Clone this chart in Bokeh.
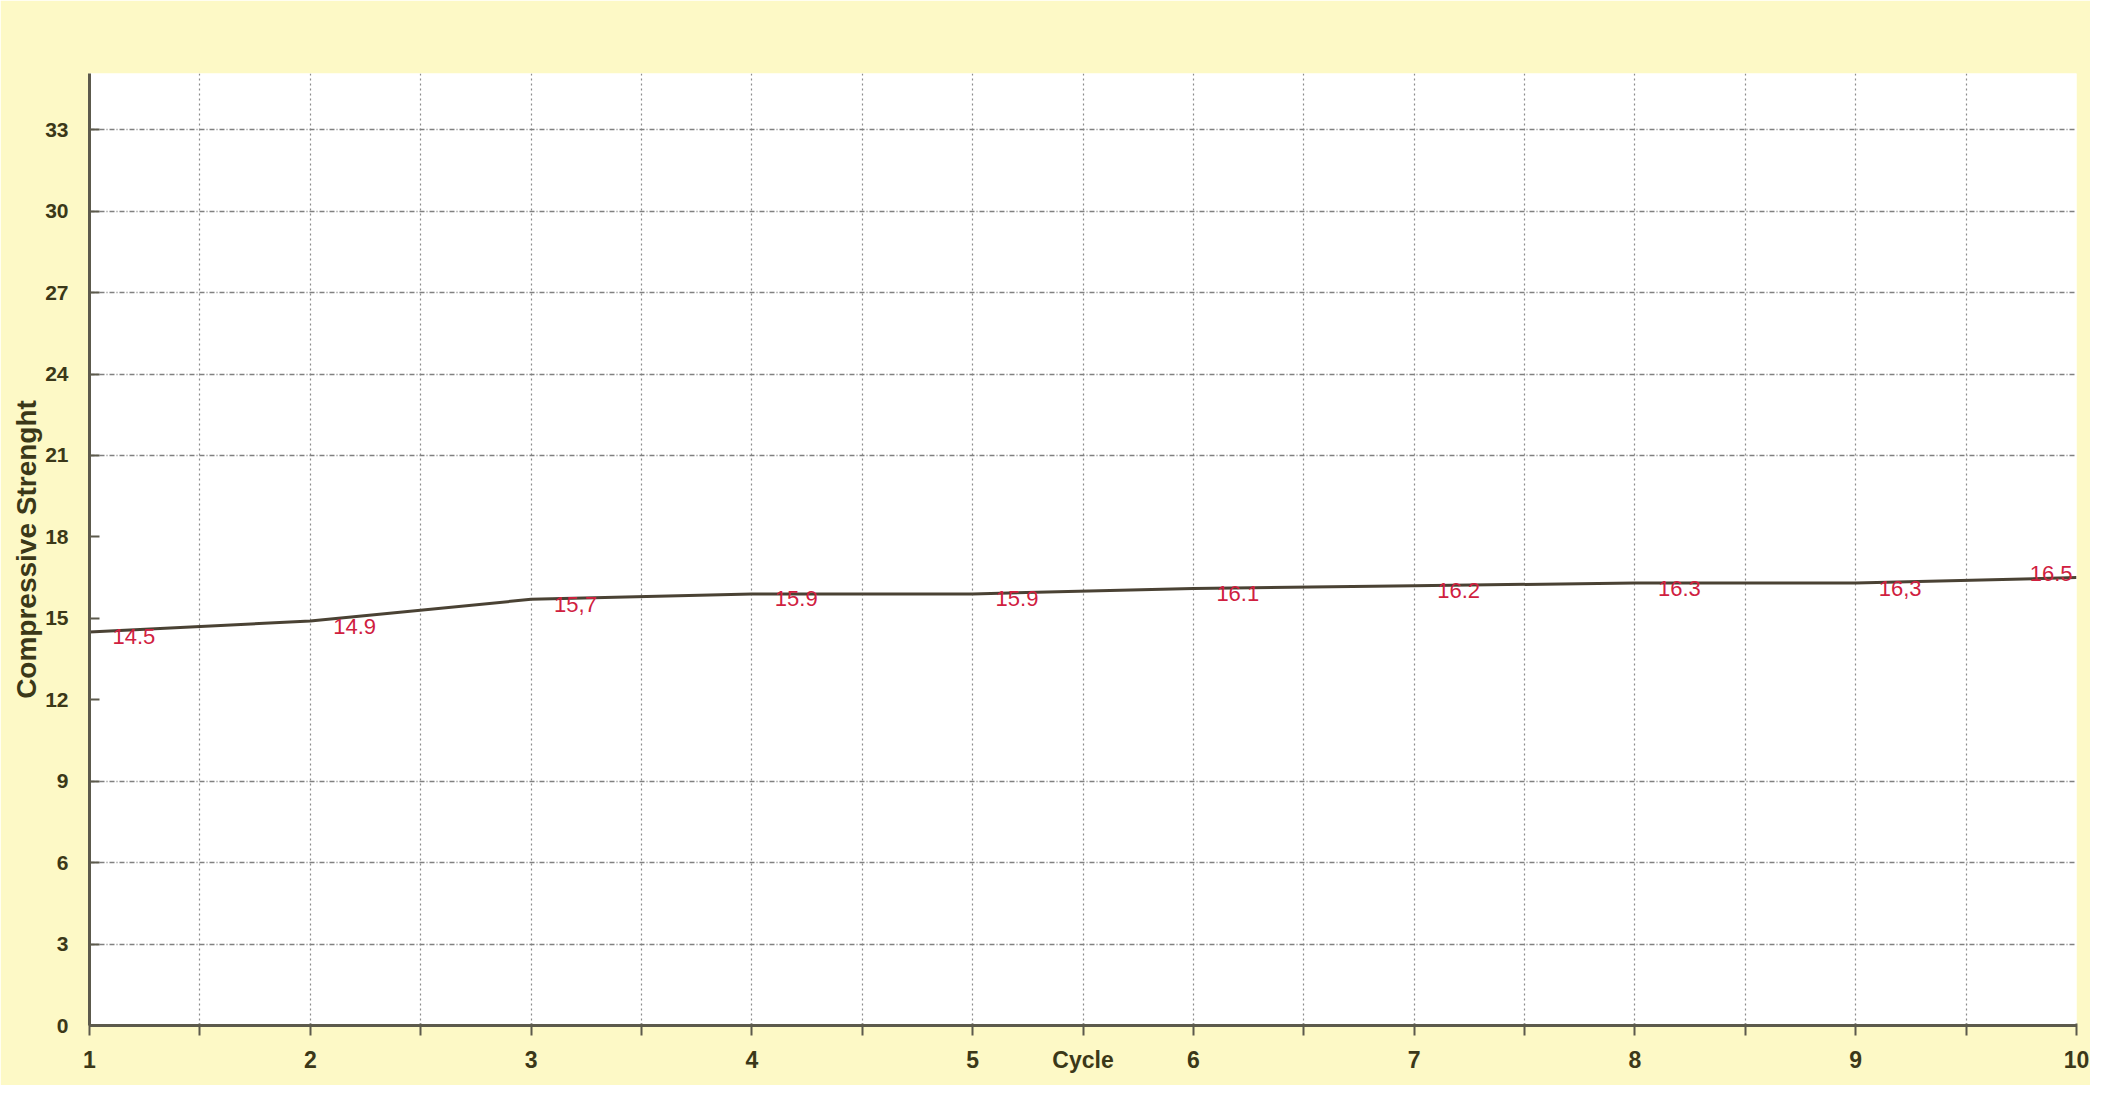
from bokeh.plotting import figure
from bokeh.models import FixedTicker, Range1d, ColumnDataSource, LabelSet
from bokeh.core.properties import value
from bokeh.embed import file_html
from bokeh.resources import INLINE

# ---- data ----
cycles = [1, 2, 3, 4, 5, 6, 7, 8, 9, 10]
strength = [14.5, 14.9, 15.7, 15.9, 15.9, 16.1, 16.2, 16.3, 16.3, 16.5]
value_labels = ["14.5", "14.9", "15,7", "15.9", "15.9", "16.1", "16.2", "16.3", "16,3", "16.5"]
y_ticks = [0, 3, 6, 9, 12, 15, 18, 21, 24, 27, 30, 33]
y_grid_ticks = [3, 6, 9, 21, 24, 27, 30, 33]
x_ticks = [1, 1.5, 2, 2.5, 3, 3.5, 4, 4.5, 5, 5.5, 6, 6.5, 7, 7.5, 8, 8.5, 9, 9.5, 10]
x_title = "Cycle"
y_title = "Compressive Strenght"

# ---- styles ----
BG = "#FDF9C6"
AXIS_COL = "#5c5a4c"
TICK_LBL = "#3b3818"
LBL_COL = "#D0203F"
FONT = "Liberation Sans"

label_dx = [23, 23, 23, 23, 23, 23, 23, 23, 23, -4]
label_dy = [-5, -5, -5, -5, -5, -5, -5, -5, -5, 4]
label_align = ["left"] * 9 + ["right"]

p = figure(width=2090, height=1085, output_backend="svg", toolbar_location=None,
           x_range=Range1d(1, 10), y_range=Range1d(0, 35.07),
           min_border_left=89, min_border_right=14, min_border_top=73, min_border_bottom=60)
p.background_fill_color = "white"
p.border_fill_color = BG
p.outline_line_color = None

src = ColumnDataSource(dict(x=cycles, y=strength, t=value_labels, dx=label_dx,
                            dy=label_dy, al=label_align))
p.line("x", "y", source=src, line_color="#4a4234", line_width=3)

labels = LabelSet(x="x", y="y", text="t", source=src, x_offset="dx", y_offset="dy",
                  text_color=LBL_COL, text_font=value(FONT), text_font_size="22px",
                  text_baseline="middle", text_align="al")
p.add_layout(labels)

# x axis
xa = p.xaxis[0]
xa.ticker = FixedTicker(ticks=x_ticks)
overrides = {}
for t in x_ticks:
    if float(t).is_integer():
        overrides[t] = str(int(t))
    elif t == 5.5:
        overrides[t] = x_title
    else:
        overrides[t] = ""
xa.major_label_overrides = overrides
xa.minor_tick_line_color = None
xa.major_tick_out = 10
xa.major_tick_in = 2
xa.major_tick_line_color = AXIS_COL
xa.major_tick_line_width = 2
xa.axis_line_color = AXIS_COL
xa.axis_line_width = 3
xa.major_label_standoff = 11
xa.major_label_text_font = FONT
xa.major_label_text_font_size = "23px"
xa.major_label_text_font_style = "bold"
xa.major_label_text_color = TICK_LBL

# y axis
ya = p.yaxis[0]
ya.ticker = FixedTicker(ticks=y_ticks)
ya.minor_tick_line_color = None
ya.major_tick_in = 10
ya.major_tick_out = 0
ya.major_tick_line_color = AXIS_COL
ya.major_tick_line_width = 2
ya.axis_line_color = AXIS_COL
ya.axis_line_width = 3
ya.major_label_standoff = 21
ya.major_label_text_font = FONT
ya.major_label_text_font_size = "21px"
ya.major_label_text_font_style = "bold"
ya.major_label_text_color = TICK_LBL
ya.axis_label = y_title
ya.axis_label_standoff = 0
ya.axis_label_text_font = FONT
ya.axis_label_text_font_size = "28px"
ya.axis_label_text_font_style = "bold"
ya.axis_label_text_color = TICK_LBL

# grids
p.xgrid.ticker = FixedTicker(ticks=x_ticks)
p.xgrid.grid_line_color = "#8c8c8c"
p.xgrid.grid_line_dash = "2 3"
p.xgrid.grid_line_width = 1.2
p.ygrid.ticker = FixedTicker(ticks=y_grid_ticks)
p.ygrid.grid_line_color = "#808080"
p.ygrid.grid_line_dash = "5 2 1 2"
p.ygrid.grid_line_width = 1.5

open("out.html", "w").write(file_html(p, INLINE))
